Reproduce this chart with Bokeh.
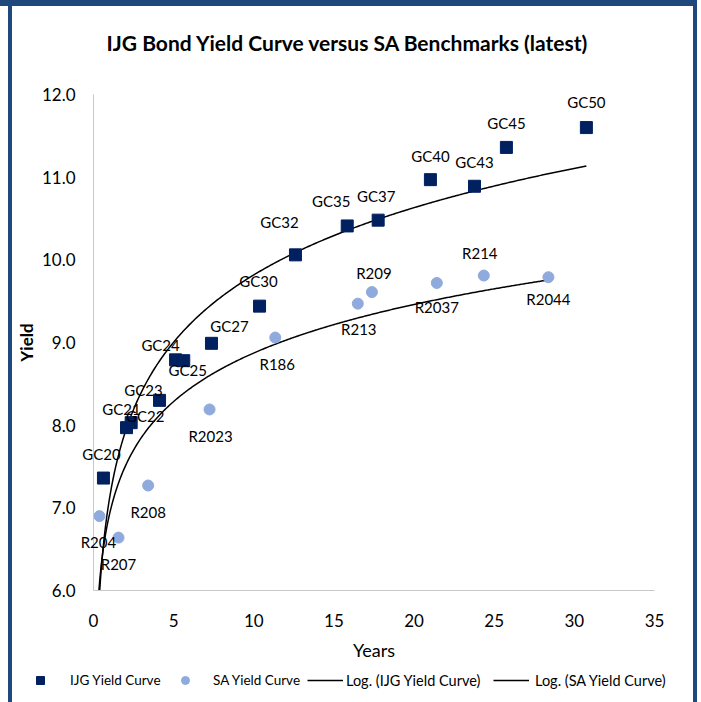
import numpy as np
from bokeh.plotting import figure
from bokeh.models import (ColumnDataSource, Legend, LegendItem, Label, LabelSet,
                          FixedTicker, NumeralTickFormatter, Range1d)
from bokeh.core.properties import value
from bokeh.embed import file_html
from bokeh.resources import INLINE

# ---------------- data ----------------
ijg_names = ["GC20", "GC21", "GC22", "GC23", "GC24", "GC25", "GC27", "GC30",
             "GC32", "GC35", "GC37", "GC40", "GC43", "GC45", "GC50"]
ijg_years = [0.62, 2.06, 2.35, 4.12, 5.12, 5.63, 7.36, 10.36,
             12.60, 15.83, 17.76, 21.02, 23.77, 25.76, 30.75]
ijg_yield = [7.36, 7.97, 8.03, 8.30, 8.79, 8.78, 8.99, 9.44,
             10.06, 10.41, 10.48, 10.97, 10.89, 11.36, 11.60]

sa_names = ["R204", "R207", "R208", "R2023", "R186", "R213", "R209",
            "R2037", "R214", "R2044"]
sa_years = [0.37, 1.56, 3.41, 7.24, 11.34, 16.49, 17.37, 21.42, 24.35, 28.38]
sa_yield = [6.90, 6.64, 7.27, 8.19, 9.06, 9.47, 9.61, 9.72, 9.81, 9.79]

x_ticks = [0, 5, 10, 15, 20, 25, 30, 35]
y_ticks = [6, 7, 8, 9, 10, 11, 12]

series_labels = ["IJG Yield Curve", "SA Yield Curve",
                 "Log. (IJG Yield Curve)", "Log. (SA Yield Curve)"]
title_text = "IJG Bond  Yield Curve versus SA Benchmarks (latest)"

# ---------------- label offsets (screen px, +up) ----------------
ijg_dx = [-2, -5, 14, -16, -15, 4, 18, -1, -16, -16, -2, 0, 0, 0, 0]
ijg_dy = [24, 19, 7, 10, 15, -9, 17, 25, 33, 25, 24, 24, 24, 24, 26]
sa_dx = [-1, 0, 0, 1, 2, 1, 2, 0, -4, 0]
sa_dy = [-26, -26, -26, -27, -26, -25, 19, -24, 23, -22]

# ---------------- geometry ----------------
W, H = 701, 702
FL, FR, FT, FB = 93, 654, 94, 590
XMIN, XMAX, YMIN, YMAX = 0, 35, 6, 12


def px2x(px):
    return XMIN + (px - FL) / (FR - FL) * (XMAX - XMIN)


def py2y(py):
    return YMIN + (FB - py) / (FB - FT) * (YMAX - YMIN)


FONT = "Lato"
NAVY = "#002060"
LIGHT = "#8FAADC"
FRAME = "#1F497D"

css = """
:host::before { content: ''; position: absolute; left: 0px; top: 0px;
  width: 697px; height: 6px; background: %s; pointer-events: none; z-index: 10; }
:host::after { content: ''; position: absolute; left: 8px; top: 0px;
  width: 689px; height: 702px; box-sizing: border-box;
  border-left: 4px solid %s; border-right: 4px solid %s;
  pointer-events: none; z-index: 10; }
""" % (FRAME, FRAME, FRAME)

# ================= main chart: axes, points, trend lines =================
p = figure(width=W, height=H, x_range=Range1d(XMIN, XMAX),
           y_range=Range1d(YMIN, YMAX), output_backend="svg",
           toolbar_location=None, min_border_left=FL, min_border_right=W - FR,
           min_border_top=FT, min_border_bottom=H - FB,
           background_fill_color="white", border_fill_color="white",
           styles={"position": "absolute", "left": "0px", "top": "0px"},
           stylesheets=[css])
p.outline_line_color = None
p.xgrid.visible = False
p.ygrid.visible = False

for ax in (p.xaxis[0], p.yaxis[0]):
    ax.axis_line_color = "#C8C8C8"
    ax.axis_line_width = 1
    ax.major_tick_line_color = None
    ax.minor_tick_line_color = None
    ax.major_tick_out = 0
    ax.major_tick_in = 0
    ax.major_label_text_font = FONT
    ax.major_label_text_font_size = "17px"
    ax.major_label_text_color = "black"
    ax.axis_label_text_font = FONT
    ax.axis_label_text_color = "black"

p.xaxis.ticker = FixedTicker(ticks=x_ticks)
p.yaxis.ticker = FixedTicker(ticks=y_ticks)
p.yaxis.formatter = NumeralTickFormatter(format="0.0")
p.xaxis.major_label_standoff = 23
p.yaxis.major_label_standoff = 18
p.xaxis.axis_label = "Years"
p.xaxis.axis_label_text_font_size = "18px"
p.xaxis.axis_label_text_font_style = "normal"
p.xaxis.axis_label_standoff = 9
p.yaxis.axis_label = "Yield"
p.yaxis.axis_label_text_font_size = "17px"
p.yaxis.axis_label_text_font_style = "bold"
p.yaxis.axis_label_standoff = 2

# trend lines (Excel-style logarithmic fit of each series)
a1, b1 = np.polyfit(np.log(ijg_years), ijg_yield, 1)
a2, b2 = np.polyfit(np.log(sa_years), sa_yield, 1)
t1 = np.linspace(0.05, max(ijg_years), 400)
t2 = np.linspace(0.05, max(sa_years), 400)
p.line(t1, a1 * np.log(t1) + b1, line_color="black", line_width=1.5)
p.line(t2, a2 * np.log(t2) + b2, line_color="black", line_width=1.5)

p.scatter(ijg_years, ijg_yield, marker="square", size=12,
          fill_color=NAVY, line_color=NAVY)
p.scatter(sa_years, sa_yield, marker="circle", size=11,
          fill_color=LIGHT, line_color=LIGHT)

# ================= transparent overlay: texts and legend =================
# same data scales as the main chart, but its frame covers the whole canvas,
# so that labels near the plot edge are not clipped.
ov = figure(width=W, height=H, x_range=Range1d(px2x(0), px2x(W)),
            y_range=Range1d(py2y(H), py2y(0)), output_backend="svg",
            toolbar_location=None, min_border=0,
            x_axis_location=None, y_axis_location=None,
            background_fill_alpha=0, border_fill_alpha=0,
            styles={"position": "absolute", "left": "0px", "top": "0px"})
ov.outline_line_color = None
ov.grid.visible = False

src_ijg = ColumnDataSource(dict(x=ijg_years, y=ijg_yield, name=ijg_names,
                                dx=ijg_dx, dy=ijg_dy))
src_sa = ColumnDataSource(dict(x=sa_years, y=sa_yield, name=sa_names,
                               dx=sa_dx, dy=sa_dy))
for src in (src_ijg, src_sa):
    ov.add_layout(LabelSet(x="x", y="y", text="name", source=src,
                           x_offset="dx", y_offset="dy",
                           text_align="center", text_baseline="middle",
                           text_font=value(FONT), text_font_size="15px",
                           text_color="black"))

ov.add_layout(Label(x=px2x(350), y=py2y(42), text=title_text,
                    text_align="center", text_baseline="middle",
                    text_font=FONT, text_font_size="21px",
                    text_font_style="bold", text_color="black"))

# renderers used only for the legend swatches (kept outside the visible range)
off = [-1000, -999]
d_ijg = ov.scatter(x=off[:1], y=off[:1], marker="square",
                   fill_color=NAVY, line_color=NAVY)
d_sa = ov.scatter(x=off[:1], y=off[:1], marker="circle",
                  fill_color=LIGHT, line_color=LIGHT)
d_l1 = ov.line(x=off, y=off, line_color="black", line_width=1.5)
d_l2 = ov.line(x=off, y=off, line_color="black", line_width=1.5)

leg_left = [22, 167, 307, 493]
leg_standoff = [12, 10, 3, 6]
leg_font = ["13.5px", "13.5px", "14.5px", "14.5px"]
for lab, rend, lx, st, fs in zip(series_labels, [d_ijg, d_sa, d_l1, d_l2],
                                 leg_left, leg_standoff, leg_font):
    ov.add_layout(Legend(items=[LegendItem(label=lab, renderers=[rend])],
                         location=(lx, H - 690),
                         glyph_width=36, glyph_height=20, label_height=20,
                         label_standoff=st, padding=0, margin=0,
                         border_line_color=None, background_fill_alpha=0,
                         label_text_font=FONT, label_text_font_size=fs,
                         label_text_color="black"))

open("out.html", "w").write(file_html([p, ov], INLINE))
